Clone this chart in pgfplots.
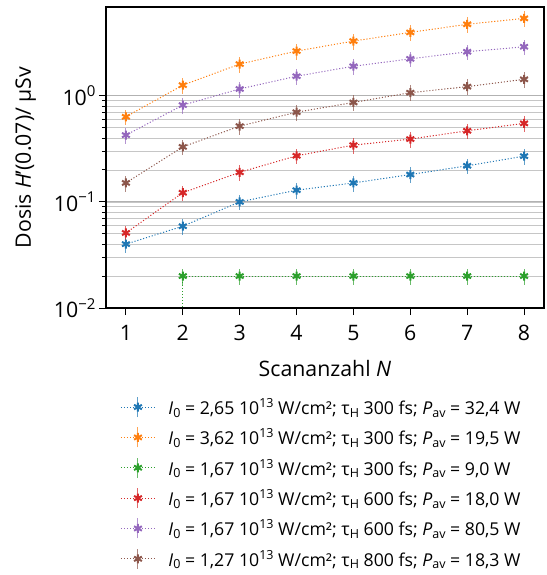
\documentclass[border=0pt]{standalone}
\usepackage{fontspec}
\setmainfont{Open Sans}
\usepackage{pgfplots}
\pgfplotsset{compat=1.18}
\definecolor{cB}{HTML}{1F77B4}
\definecolor{cO}{HTML}{FF7F0E}
\definecolor{cG}{HTML}{2CA02C}
\definecolor{cR}{HTML}{D62728}
\definecolor{cP}{HTML}{9467BD}
\definecolor{cBr}{HTML}{8C564B}
\newcommand{\tsup}[1]{\raisebox{8.5pt}{\fontsize{15}{15}\selectfont #1}}
\newcommand{\lsup}[1]{\raisebox{7pt}{\fontsize{12.5}{12.5}\selectfont #1}}
\newcommand{\lsub}[1]{\raisebox{-2.7pt}{\fontsize{12.5}{12.5}\selectfont #1}}
\newcommand{\entry}[4]{\textit{I}\lsub{0} = #1 10\lsup{13} W/cm²; τ\lsub{H} #2 fs; \textit{P}\lsub{av} = #3 W}
\begin{document}
\begin{tikzpicture}
\begin{axis}[
  name=ax,
  scale only axis,
  width=438pt, height=301pt,
  ymode=log,
  xmin=0.65, xmax=8.35,
  ymin=0.01, ymax=6.87,
  xtick={1,2,3,4,5,6,7,8},
  ytick={0.01,0.1,1},
  yticklabels={10\tsup{−2},10\tsup{−1},10\tsup{0}},
  xticklabels={1,2,3,4,5,6,7,8},
  xtick pos=bottom, ytick pos=left,
  tick align=outside,
  major tick length=7pt, minor tick length=4pt,
  every tick/.style={black, line width=1pt},
  axis line style={line width=1.5pt},
  ymajorgrids, yminorgrids,
  major grid style={gray!60, line width=1pt},
  minor grid style={gray!45, line width=0.8pt},
  font=\fontsize{21.3}{25}\selectfont,
  xlabel={Scananzahl \textit{N}},
  ylabel={Dosis \textit{H}'(0.07)/ µSv},
  ylabel style={yshift=11pt},
  xticklabel style={yshift=-7pt},
  xlabel style={yshift=-12pt},
  error bars/y dir=both,
  error bars/y explicit relative,
  error bars/error mark=none,
  error bars/error bar style={line width=1pt, opacity=0.7, solid},
  every axis plot/.append style={dash pattern=on 1.1pt off 1.9pt, line width=1pt, mark=asterisk, mark size=4.5pt, mark options={solid, line width=2pt}},
  legend style={at={(axis description cs:0.028,-0.286)}, anchor=north west, draw=none, fill=none,
    font=\fontsize{17.7}{20}\selectfont, row sep=8.8pt, inner sep=2pt,
    /tikz/every odd column/.append style={column sep=11pt}},
  legend cell align=left,
  legend image code/.code={
    \draw[#1, mark=none, solid, opacity=0.7] (17pt,-10pt) -- (17pt,10pt);
    \draw[mark repeat=2, mark phase=2, #1] plot coordinates {(0pt,0pt) (17pt,0pt) (34pt,0pt)};
  },
]
\addplot[color=cB] coordinates {(1,0.040) +- (0,0.17) (2,0.059) +- (0,0.17) (3,0.100) +- (0,0.17) (4,0.129) +- (0,0.17) (5,0.151) +- (0,0.17) (6,0.181) +- (0,0.17) (7,0.219) +- (0,0.17) (8,0.270) +- (0,0.17)};
\addlegendentry{\entry{2,65}{300}{32,4}{}}
\addplot[color=cO] coordinates {(1,0.634) +- (0,0.17) (2,1.26) +- (0,0.17) (3,1.99) +- (0,0.17) (4,2.64) +- (0,0.17) (5,3.28) +- (0,0.17) (6,3.96) +- (0,0.17) (7,4.72) +- (0,0.17) (8,5.37) +- (0,0.17)};
\addlegendentry{\entry{3,62}{300}{19,5}{}}
\addplot[color=cG] coordinates {(2,0.020) +- (0,0.17) (3,0.020) +- (0,0.17) (4,0.020) +- (0,0.17) (5,0.020) +- (0,0.17) (6,0.020) +- (0,0.17) (7,0.020) +- (0,0.17) (8,0.020) +- (0,0.17)};
\addlegendentry{\entry{1,67}{300}{9,0}{}}
\addplot[color=cR] coordinates {(1,0.051) +- (0,0.17) (2,0.122) +- (0,0.17) (3,0.190) +- (0,0.17) (4,0.272) +- (0,0.17) (5,0.343) +- (0,0.17) (6,0.391) +- (0,0.17) (7,0.468) +- (0,0.17) (8,0.550) +- (0,0.17)};
\addlegendentry{\entry{1,67}{600}{18,0}{}}
\addplot[color=cP] coordinates {(1,0.426) +- (0,0.17) (2,0.817) +- (0,0.17) (3,1.16) +- (0,0.17) (4,1.53) +- (0,0.17) (5,1.90) +- (0,0.17) (6,2.23) +- (0,0.17) (7,2.60) +- (0,0.17) (8,2.90) +- (0,0.17)};
\addlegendentry{\entry{1,67}{600}{80,5}{}}
\addplot[color=cBr] coordinates {(1,0.151) +- (0,0.17) (2,0.330) +- (0,0.17) (3,0.518) +- (0,0.17) (4,0.700) +- (0,0.17) (5,0.866) +- (0,0.17) (6,1.07) +- (0,0.17) (7,1.22) +- (0,0.17) (8,1.43) +- (0,0.17)};
\addlegendentry{\entry{1,27}{800}{18,3}{}}
\addplot[color=cG, dash pattern=on 1.1pt off 1.9pt, line width=1pt, mark=none, forget plot, error bars/y dir=none] coordinates {(2,0.020) (2,0.001)};
\end{axis}
\pgfresetboundingbox
\useasboundingbox ([xshift=-106pt,yshift=-267pt]ax.south west) rectangle ++(546pt,575pt);
\end{tikzpicture}
\end{document}
